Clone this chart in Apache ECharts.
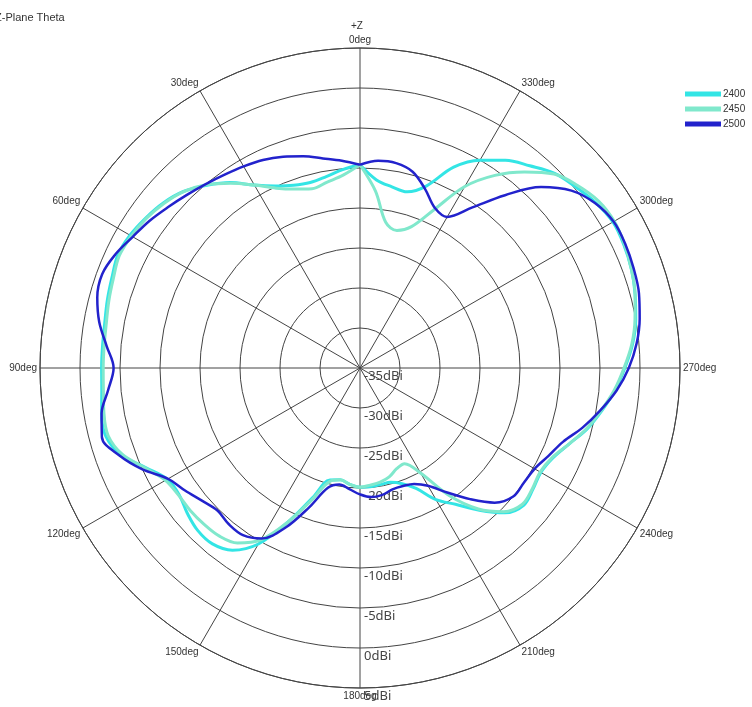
<!DOCTYPE html>
<html>
<head>
<meta charset="utf-8">
<script src="https://cdn.jsdelivr.net/npm/echarts@6/dist/echarts.min.js"></script>
<style>
html,body{margin:0;padding:0;background:#fff;}
#c{width:752px;height:707px;}
</style>
</head>
<body>
<div id="c"></div>
<script>
// Angles (deg, counterclockwise from +Z)
const angles = [0,5,10,15,20,25,30,35,40,45,50,55,60,65,70,75,80,85,90,95,100,105,110,115,120,125,130,135,140,145,150,155,160,165,170,175,180,185,190,195,200,205,210,215,220,225,230,235,240,245,250,255,260,265,270,275,280,285,290,295,300,305,310,315,320,325,330,335,340,345,350,355,360];

const gain2400 = [-9.6,-10.1,-10.7,-11.0,-10.7,-9.9,-8.6,-6.7,-5.2,-3.8,-2.9,-2.3,-1.8,-1.6,-2.0,-2.3,-2.6,-2.7,-2.7,-2.6,-2.2,-2.1,-3.2,-5.5,-7.2,-7.4,-6.8,-6.3,-6.3,-7.2,-9.6,-13.8,-17.8,-20.5,-20.8,-20.4,-20.1,-20.1,-20.2,-20.2,-19.6,-18.4,-16.0,-14.2,-11.8,-9.4,-8.3,-8.6,-8.9,-8.4,-7.2,-5.6,-4.3,-3.0,-1.9,-0.8,0.0,0.6,1.1,1.4,1.5,1.0,0.2,-0.6,-2.0,-3.3,-5.0,-7.3,-10.8,-12.2,-12.0,-11.4,-9.6];

const gain2450 = [-9.6,-10.8,-11.4,-11.8,-11.2,-10.2,-8.6,-6.8,-5.1,-3.8,-3.0,-2.4,-2.0,-1.8,-2.2,-2.5,-2.8,-2.9,-2.9,-2.8,-2.5,-2.4,-3.4,-5.4,-6.9,-7.3,-7.3,-7.4,-7.6,-8.3,-10.2,-13.8,-17.5,-20.3,-20.8,-20.4,-20.1,-20.3,-20.5,-20.9,-21.6,-21.8,-19.8,-15.5,-12.0,-9.6,-8.5,-8.7,-9.0,-8.5,-7.2,-5.7,-4.4,-3.1,-2.0,-0.9,-0.1,0.6,1.1,1.5,1.7,1.4,0.5,-0.7,-3.0,-5.6,-8.8,-13.2,-16.2,-17.2,-16.5,-12.8,-9.6];

const gain2500 = [-9.6,-9.0,-8.4,-7.6,-6.9,-6.3,-5.9,-5.5,-5.0,-4.4,-3.7,-2.9,-2.2,-1.3,-0.7,-1.0,-1.9,-3.2,-4.2,-3.4,-2.2,-1.6,-3.0,-5.0,-7.3,-8.3,-9.2,-9.8,-9.5,-9.5,-10.4,-13.0,-16.5,-19.5,-20.2,-19.8,-19.2,-18.8,-18.9,-19.3,-19.3,-19.0,-18.0,-16.0,-13.6,-11.2,-10.0,-10.0,-9.8,-9.0,-8.0,-6.2,-4.5,-2.8,-1.4,-0.3,0.5,1.1,1.4,1.6,1.6,0.9,-0.5,-3.0,-6.8,-10.5,-13.2,-12.9,-11.2,-9.6,-9.0,-9.0,-9.6];

const seriesNames = ['2400','2450','2500'];
const seriesColors = ['#33e5e5','#80e8cc','#2222cc'];
const seriesValues = [gain2400, gain2450, gain2500];

const chart = echarts.init(document.getElementById('c'));
const gridColor = '#444';
const CENTER = [360, 368];
const R = 320;

const option = {
  animation: false,
  backgroundColor: '#fff',
  title: [
    {text: 'Z-Plane Theta', left: -10, top: 7, textStyle: {fontSize: 11, fontWeight: 'normal', color: '#333', fontFamily: 'Liberation Sans'}},
    {text: '+Z', left: 346, top: 16, textStyle: {fontSize: 10, fontWeight: 'normal', color: '#333', fontFamily: 'Liberation Sans'}}
  ],
  legend: {
    orient: 'vertical', left: 680, top: 84,
    itemWidth: 36, itemHeight: 5, itemGap: 5, icon: 'rect',
    textStyle: {fontSize: 10, color: '#333', fontFamily: 'Liberation Sans', padding: [0,0,0,-3]},
    data: seriesNames
  },
  polar: [
    {center: CENTER, radius: R},
    {center: CENTER, radius: R}
  ],
  angleAxis: [
    {
      polarIndex: 0, type: 'value', min: 0, max: 360, interval: 30,
      startAngle: 90, clockwise: false,
      axisLine: {show: true, lineStyle: {color: gridColor, width: 1}},
      axisTick: {show: false},
      splitLine: {show: true, lineStyle: {color: gridColor, width: 1}},
      axisLabel: {
        show: true, margin: 3, fontSize: 10, color: '#333', fontFamily: 'Liberation Sans',
        formatter: v => (v === 360 ? '' : v + 'deg')
      }
    },
    {
      polarIndex: 1, type: 'value', min: 0, max: 360, startAngle: 270, show: false
    }
  ],
  radiusAxis: [
    {
      polarIndex: 0, type: 'value', min: -35, max: 5, interval: 5,
      axisLine: {show: false}, axisTick: {show: false},
      axisLabel: {show: false},
      splitLine: {show: true, lineStyle: {color: gridColor, width: 1}}
    },
    {
      polarIndex: 1, type: 'value', min: -35, max: 5, interval: 5,
      axisLine: {show: false}, axisTick: {show: false},
      splitLine: {show: false},
      axisLabel: {
        show: true, margin: 4, fontSize: 13, color: '#444', fontFamily: 'Noto Sans',
        verticalAlign: 'top', align: 'left', padding: [2, 0, 0, 0],
        formatter: v => v + 'dBi'
      }
    }
  ],
  series: seriesNames.map((name, k) => ({
    name: name,
    type: 'line',
    coordinateSystem: 'polar',
    polarIndex: 0,
    smooth: 0.35,
    symbol: 'none',
    lineStyle: {color: seriesColors[k], width: k === 2 ? 2.5 : 3},
    itemStyle: {color: seriesColors[k]},
    z: 3 + k,
    data: angles.map((a, i) => [seriesValues[k][i], a])
  }))
};
chart.setOption(option);
</script>
</body>
</html>
